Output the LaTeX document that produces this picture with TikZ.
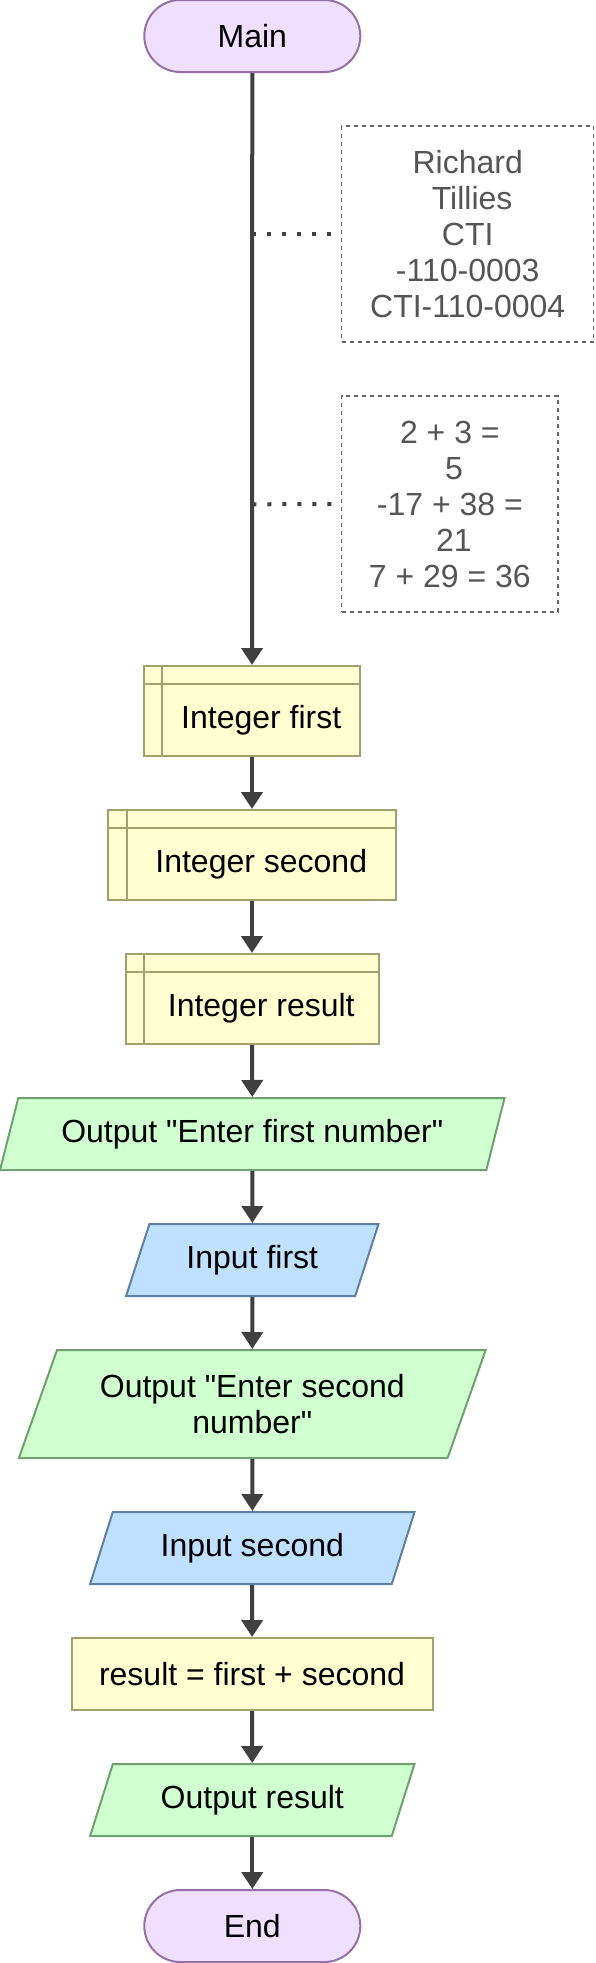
\documentclass[tikz,border=0pt]{standalone}
\usepackage{fontspec}
\setmainfont{Liberation Sans}
\usetikzlibrary{shapes.geometric,arrows.meta}
\definecolor{termfill}{HTML}{EFE0FF}
\definecolor{termdraw}{HTML}{9670A8}
\definecolor{declfill}{HTML}{FFFFD2}
\definecolor{decldraw}{HTML}{A0A070}
\definecolor{outfill}{HTML}{D0FFD0}
\definecolor{outdraw}{HTML}{70A070}
\definecolor{infill}{HTML}{BFE0FF}
\definecolor{indraw}{HTML}{6080A0}
\definecolor{linegray}{HTML}{404040}
\definecolor{notegray}{HTML}{666666}
\definecolor{notetext}{HTML}{555555}
\begin{document}
\begin{tikzpicture}[x=1pt,y=-1pt,
  every node/.style={font=\fontsize{32}{36}\selectfont, inner sep=0pt, text=black},
  shapeline/.style={line width=2pt},
  term/.style={shapeline, draw=termdraw, fill=termfill, rectangle, rounded corners=36pt, minimum width=216pt, minimum height=72pt},
  decl/.style={shapeline, draw=decldraw, fill=declfill, rectangle, minimum height=90pt,
    path picture={
      \draw[decldraw, line width=2pt] ([xshift=18.5pt]path picture bounding box.north west) -- ([xshift=18.5pt]path picture bounding box.south west);
      \draw[decldraw, line width=2pt] ([yshift=-18pt]path picture bounding box.north west) -- ([yshift=-18pt]path picture bounding box.north east);}},
  decltext/.style={xshift=9.25pt, yshift=-9pt},
  procbox/.style={shapeline, draw=decldraw, fill=declfill, rectangle, minimum height=72pt},
  para/.style={shapeline, trapezium, trapezium left angle=63.435, trapezium right angle=116.565, trapezium stretches=true, align=center},
  outpara/.style={para, draw=outdraw, fill=outfill},
  inpara/.style={para, draw=indraw, fill=infill},
  note/.style={draw=notegray, line width=1.5pt, dash pattern=on 4pt off 4pt, text=notetext, align=center, minimum height=216pt},
  flow/.style={draw=linegray, line width=4pt, -{Triangle[length=17pt, width=21pt]}},
  dotline/.style={draw=linegray, line width=4pt, dash pattern=on 4pt off 11pt}
]
\useasboundingbox (0,0) rectangle (595,1963);

\node[term] (main) at (252.3,36) {Main};

\node[note, minimum width=252pt] (n1) at (467.7,234) {Richard\\\hspace*{8.9pt}Tillies\\CTI\\-110-0003\\CTI-110-0004};
\node[note, minimum width=216.3pt] (n2) at (449.85,504) {2 + 3 =\\\hspace*{8.2pt}5\\-17 + 38 =\\\hspace*{8.2pt}21\\7 + 29 = 36};

\node[decl, minimum width=216.5pt, label={[decltext]center:Integer first}] (d1) at (252,711) {};
\node[decl, minimum width=288pt, label={[decltext]center:Integer second}] (d2) at (252,855) {};
\node[decl, minimum width=253pt, label={[decltext]center:Integer result}] (d3) at (252,999) {};

\node[outpara, minimum width=505pt, minimum height=72pt] (o1) at (252.3,1134) {Output \textquotedbl Enter first number\textquotedbl};
\node[inpara, minimum width=253pt, minimum height=72pt] (i1) at (252.3,1260) {Input first};
\node[outpara, minimum width=469pt, minimum height=108pt] (o2) at (252.3,1404) {Output \textquotedbl Enter second\\number\textquotedbl};
\node[inpara, minimum width=325pt, minimum height=72pt] (i2) at (252.3,1548) {Input second};
\node[procbox, minimum width=361pt] (proc) at (252,1674) {result = first + second};
\node[outpara, minimum width=325pt, minimum height=72pt] (o3) at (252.3,1800) {Output result};

\node[term] (end) at (252.3,1926) {End};

\coordinate (c1) at (252.3,234);
\coordinate (c2) at (252.3,504.3);

\draw[flow] (main) -- (d1);
\draw[flow] (d1) -- (d2);
\draw[flow] (d2) -- (d3);
\draw[flow] (d3) -- (o1);
\draw[flow] (o1) -- (i1);
\draw[flow] (i1) -- (o2);
\draw[flow] (o2) -- (i2);
\draw[flow] (i2) -- (proc);
\draw[flow] (proc) -- (o3);
\draw[flow] (o3) -- (end);

\draw[dotline] (c1) -- (n1.west);
\draw[dotline] (c2) -- (n2.west);
\end{tikzpicture}
\end{document}
